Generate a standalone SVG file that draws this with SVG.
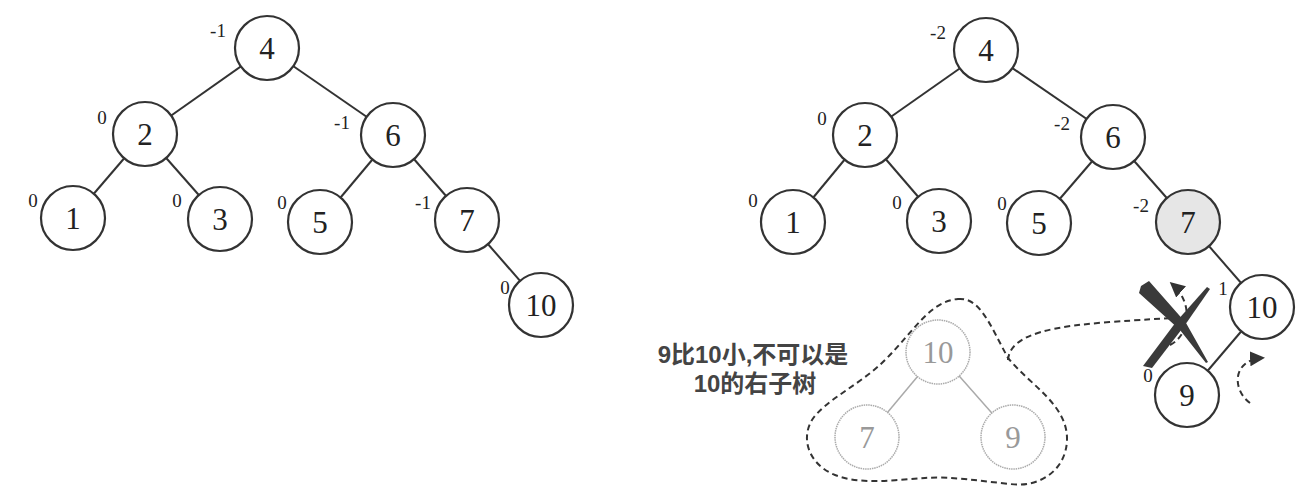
<svg xmlns="http://www.w3.org/2000/svg" width="1309" height="503" viewBox="0 0 1309 503">
<style>
.e{stroke:#333;stroke-width:2;fill:none}
.ge{stroke:#aaa;stroke-width:1.5;fill:none}
.c{fill:#fff;stroke:#333;stroke-width:2.2}
.gc{fill:#fff;stroke:#aaa;stroke-width:1.5;stroke-dasharray:1.5 0.8}
.t{font-family:"Liberation Serif",serif;font-size:31px;fill:#222;text-anchor:middle}
.gt{font-family:"Liberation Serif",serif;font-size:31px;fill:#999;text-anchor:middle}
.b{font-family:"Liberation Serif",serif;font-size:19px;fill:#222;text-anchor:middle}
.d{stroke:#333;stroke-width:2;fill:none;stroke-dasharray:6 4}
.note{font-family:"Liberation Sans","Noto Sans CJK SC",sans-serif;font-size:24px;font-weight:bold;fill:#444;text-anchor:middle}
</style>
<defs>
<marker id="ah2" viewBox="0 0 10 10" refX="8" refY="5" markerWidth="15" markerHeight="15" orient="auto" markerUnits="userSpaceOnUse">
<path d="M0,0 L10,5 L0,10 Z" fill="#333"/>
</marker>
</defs>
<rect width="1309" height="503" fill="#fff"/>
<g id="connectors">
<line class="e" x1="267" y1="48" x2="145" y2="134"/>
<line class="e" x1="267" y1="48" x2="393" y2="135"/>
<line class="e" x1="145" y1="134" x2="73" y2="218"/>
<line class="e" x1="145" y1="134" x2="220" y2="219"/>
<line class="e" x1="393" y1="135" x2="320" y2="222"/>
<line class="e" x1="393" y1="135" x2="467" y2="220"/>
<line class="e" x1="467" y1="220" x2="541" y2="305"/>
<line class="e" x1="986" y1="50" x2="865" y2="135"/>
<line class="e" x1="986" y1="50" x2="1113" y2="137"/>
<line class="e" x1="865" y1="135" x2="793" y2="222"/>
<line class="e" x1="865" y1="135" x2="939" y2="221"/>
<line class="e" x1="1113" y1="137" x2="1039" y2="223"/>
<line class="e" x1="1113" y1="137" x2="1188" y2="222"/>
<line class="e" x1="1188" y1="222" x2="1262" y2="307"/>
<line class="e" x1="1262" y1="307" x2="1187" y2="395"/>
<line class="ge" x1="938" y1="352" x2="867" y2="437"/>
<line class="ge" x1="938" y1="352" x2="1013" y2="437"/>
<path class="d" d="M1008,360 C1010,332 1060,326 1110,322 C1140,320 1165,318 1180,318"/>
<path class="d" d="M1170,345 C1190,335 1194,303 1172,284" marker-end="url(#ah2)"/>
<path class="d" d="M1250,403 C1232,390 1232,360 1262,358" marker-end="url(#ah2)"/>
</g>
<g id="n4L"><circle class="c" cx="267" cy="48" r="32"/><text class="t" x="267" y="59">4</text><text class="b" x="218" y="37">-1</text></g>
<g id="n2L"><circle class="c" cx="145" cy="134" r="32"/><text class="t" x="145" y="145">2</text><text class="b" x="102" y="124">0</text></g>
<g id="n1L"><circle class="c" cx="73" cy="218" r="32"/><text class="t" x="73" y="229">1</text><text class="b" x="33" y="207">0</text></g>
<g id="n3L"><circle class="c" cx="220" cy="219" r="32"/><text class="t" x="220" y="230">3</text><text class="b" x="177" y="207">0</text></g>
<g id="n6L"><circle class="c" cx="393" cy="135" r="32"/><text class="t" x="393" y="146">6</text><text class="b" x="342" y="129">-1</text></g>
<g id="n5L"><circle class="c" cx="320" cy="222" r="32"/><text class="t" x="320" y="233">5</text><text class="b" x="282" y="209">0</text></g>
<g id="n7L"><circle class="c" cx="467" cy="220" r="32"/><text class="t" x="467" y="231">7</text><text class="b" x="423" y="209">-1</text></g>
<g id="n10L"><circle class="c" cx="541" cy="305" r="32"/><text class="t" x="541" y="316">10</text><text class="b" x="505" y="294">0</text></g>
<g id="n4R"><circle class="c" cx="986" cy="50" r="32"/><text class="t" x="986" y="61">4</text><text class="b" x="938" y="39">-2</text></g>
<g id="n2R"><circle class="c" cx="865" cy="135" r="32"/><text class="t" x="865" y="146">2</text><text class="b" x="822" y="125">0</text></g>
<g id="n1R"><circle class="c" cx="793" cy="222" r="32"/><text class="t" x="793" y="233">1</text><text class="b" x="753" y="207">0</text></g>
<g id="n3R"><circle class="c" cx="939" cy="221" r="32"/><text class="t" x="939" y="232">3</text><text class="b" x="897" y="209">0</text></g>
<g id="n6R"><circle class="c" cx="1113" cy="137" r="32"/><text class="t" x="1113" y="148">6</text><text class="b" x="1062" y="130">-2</text></g>
<g id="n5R"><circle class="c" cx="1039" cy="223" r="32"/><text class="t" x="1039" y="234">5</text><text class="b" x="1002" y="210">0</text></g>
<g id="n7R"><circle class="c" cx="1188" cy="222" r="32" style="fill:#e6e6e6"/><text class="t" x="1188" y="233">7</text><text class="b" x="1141" y="212">-2</text></g>
<g id="n10R"><circle class="c" cx="1262" cy="307" r="32"/><text class="t" x="1262" y="318">10</text><text class="b" x="1223" y="295">1</text></g>
<g id="n9R"><circle class="c" cx="1187" cy="395" r="32"/><text class="t" x="1187" y="406">9</text><text class="b" x="1148" y="382">0</text></g>
<g id="blob"><path class="d" d="M958,299 C980,297 990,325 1008,358 C1030,385 1068,405 1067,440 C1066,470 1040,488 1010,484 C980,481 950,476 925,478 C895,480 860,485 835,475 C810,465 800,440 812,420 C825,400 860,385 885,360 C915,330 930,301 958,299 Z"/></g>
<g id="g10"><circle class="gc" cx="938" cy="352" r="32"/><text class="gt" x="938" y="363">10</text></g>
<g id="g7"><circle class="gc" cx="867" cy="437" r="32"/><text class="gt" x="867" y="448">7</text></g>
<g id="g9"><circle class="gc" cx="1013" cy="437" r="32"/><text class="gt" x="1013" y="448">9</text></g>
<g id="cross">
<polygon fill="#3a3a3a" points="1141,286 1149,281 1186,323 1208,362 1206,363 1180,330 1139,293"/>
<polygon fill="#3a3a3a" points="1207,287 1210,289 1185,325 1152,368 1143,366 1176,322"/>
</g>
<g id="note">
<text class="note" x="753" y="363">9比10小,不可以是</text>
<text class="note" x="755" y="392">10的右子树</text>
</g>
</svg>
